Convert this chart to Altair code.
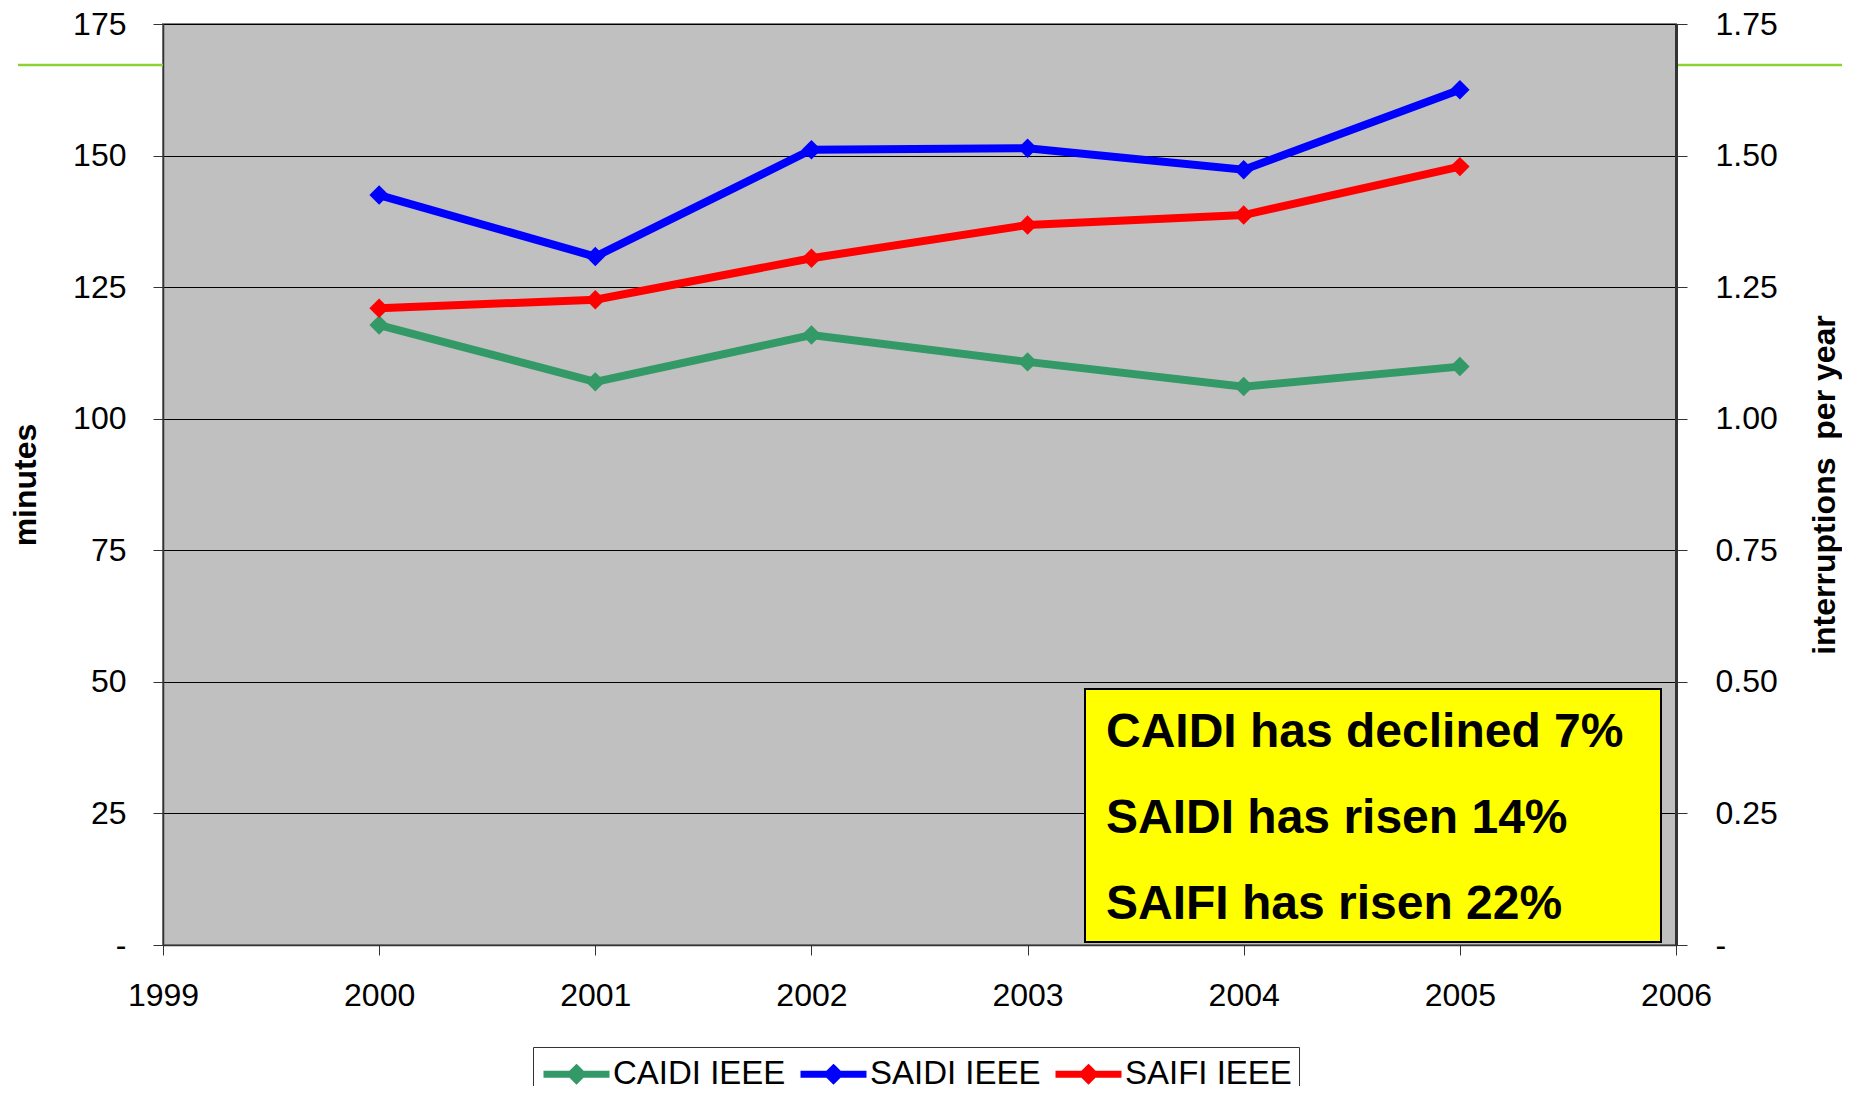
import altair as alt
import pandas as pd

# ---- data ----
years = [2000, 2001, 2002, 2003, 2004, 2005]
caidi = [117.8, 107.0, 115.9, 110.8, 106.1, 109.9]      # minutes
saidi = [142.5, 130.8, 151.1, 151.4, 147.3, 162.5]      # minutes
saifi = [1.210, 1.226, 1.305, 1.368, 1.387, 1.479]      # interruptions per year
series_names = ["CAIDI IEEE", "SAIDI IEEE", "SAIFI IEEE"]
series_colors = ["#339966", "#0000FF", "#FF0000"]
notes = ["CAIDI has declined 7%", "SAIDI has risen 14%", "SAIFI has risen 22%"]
x_ticks = [1999, 2000, 2001, 2002, 2003, 2004, 2005, 2006]
left_ticks = [0, 25, 50, 75, 100, 125, 150, 175]
right_ticks = [0, 0.25, 0.5, 0.75, 1.0, 1.25, 1.5, 1.75]

W, H = 1513, 921
FONT = "Liberation Sans"

df_min = pd.DataFrame(
    {"year": years * 2, "value": caidi + saidi,
     "series": [series_names[0]] * 6 + [series_names[1]] * 6}
)
df_int = pd.DataFrame({"year": years, "value": saifi, "series": [series_names[2]] * 6})
dummy = pd.DataFrame({"a": [0]})

# stroked legend symbol: a line with a small diamond in the middle
# (drawn wider than its nominal square so the legend row stays short)
legend_symbol = "M-1,0L3,0M1,-0.34L1.34,0L1,0.34L0.66,0Z"

color = alt.Color(
    "series:N",
    scale=alt.Scale(domain=series_names, range=series_colors),
    legend=alt.Legend(
        title=None, orient="none", legendX=370, legendY=1023,
        direction="horizontal", fillColor="white", strokeColor="#333333",
        padding=7, labelFontSize=33, labelFont=FONT, labelLimit=500,
        labelColor="black", symbolType=legend_symbol, symbolSize=1089,
        symbolStrokeWidth=7, columnPadding=0, labelOffset=33,
    ),
)

x_enc = alt.X(
    "year:Q",
    scale=alt.Scale(domain=[1999, 2006], nice=False, zero=False),
    axis=alt.Axis(values=x_ticks, format="d", title=None, grid=False,
                  tickSize=10, labelPadding=25, labelFontSize=32, labelFont=FONT,
                  labelColor="black", domainColor="#333333", domainWidth=1.5,
                  tickColor="#333333", labelFlush=False),
)

point_def = alt.OverlayMarkDef(shape="diamond", size=380, filled=True, opacity=1)

lines_min = alt.Chart(df_min).mark_line(strokeWidth=8, point=point_def).encode(
    x=x_enc,
    y=alt.Y("value:Q", scale=alt.Scale(domain=[0, 175], nice=False),
            axis=alt.Axis(orient="left", values=left_ticks, title="minutes",
                          labelExpr="datum.value == 0 ? '-\u2007\u2007' : format(datum.value, 'd')",
                          tickSize=10, labelPadding=27, labelFontSize=32, labelFont=FONT,
                          labelColor="black", grid=True, gridColor="black", gridWidth=1,
                          domainColor="#333333", domainWidth=1.5, tickColor="#333333",
                          titleFontSize=32, titleFont=FONT, titleFontWeight="bold",
                          titleColor="black", titleAngle=270, titleBaseline="alphabetic",
                          titleAlign="center", titleX=-128, titleY=H / 2,
                          labelFlush=False)),
    color=color,
    order="year:Q",
)

lines_int = alt.Chart(df_int).mark_line(strokeWidth=8, point=point_def).encode(
    x=x_enc,
    y=alt.Y("value:Q", scale=alt.Scale(domain=[0, 1.75], nice=False),
            axis=alt.Axis(orient="right", values=right_ticks,
                          title="interruptions\u00a0 per year",
                          labelExpr="datum.value == 0 ? '-' : format(datum.value, '.2f')",
                          tickSize=11, labelPadding=28, labelFontSize=32, labelFont=FONT,
                          labelColor="black", grid=False,
                          domainColor="#333333", domainWidth=3, tickColor="#333333",
                          titleFontSize=32, titleFont=FONT, titleFontWeight="bold",
                          titleColor="black", titleAngle=270, titleBaseline="alphabetic",
                          titleAlign="center", titleX=158, titleY=H / 2,
                          labelFlush=False)),
    color=color,
    order="year:Q",
)

# decorative green header line (outside the plot area, as in the slide)
green_left = alt.Chart(dummy).mark_rule(color="#8CD234", strokeWidth=2.5).encode(
    x=alt.value(-145), x2=alt.value(0), y=alt.value(41))
green_right = alt.Chart(dummy).mark_rule(color="#8CD234", strokeWidth=2.5).encode(
    x=alt.value(W + 2), x2=alt.value(W + 200), y=alt.value(41))

# yellow annotation box
box = alt.Chart(dummy).mark_rect(fill="#FFFF00", stroke="black", strokeWidth=2).encode(
    x=alt.value(922), x2=alt.value(1498), y=alt.value(665), y2=alt.value(918))
note_text = alt.Chart(dummy).mark_text(
    align="left", baseline="alphabetic", fontSize=48, fontWeight="bold",
    font=FONT, color="black", lineBreak="\n", lineHeight=86,
).encode(x=alt.value(943), y=alt.value(723), text=alt.value("\n".join(notes)))

chart = alt.layer(
    lines_min, lines_int, green_left, green_right, box, note_text
).resolve_scale(y="independent").properties(
    width=W, height=H,
    autosize=alt.AutoSizeParams(type="none"),
    padding={"left": 155, "top": 16, "right": 166, "bottom": 141},
    background="white",
).configure_view(
    fill="#C0C0C0", stroke="#808080", strokeWidth=2
)

chart.save("out.html", embed_options={"renderer": "svg", "actions": False})
